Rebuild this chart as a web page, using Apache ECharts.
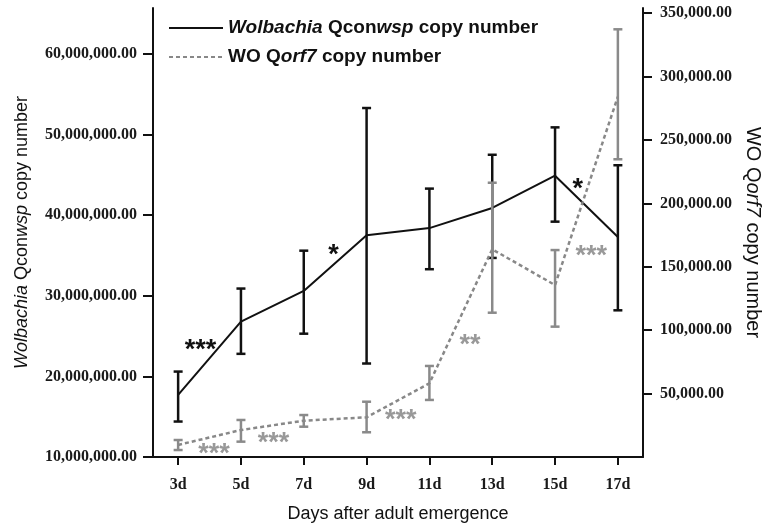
<!DOCTYPE html>
<html>
<head>
<meta charset="utf-8">
<script src="https://cdn.jsdelivr.net/npm/echarts@6/dist/echarts.min.js"></script>
<style>
html,body{margin:0;padding:0;background:#fff;}
#container{width:763px;height:523px;}
</style>
</head>
<body>
<div id="container"></div>
<script>
// days after adult emergence
var days = [3, 5, 7, 9, 11, 13, 15, 17];
// Wolbachia Qconwsp copy number (left axis): mean and error bar ends
var wolMean = [17.7e6, 26.8e6, 30.6e6, 37.5e6, 38.4e6, 40.9e6, 44.9e6, 37.3e6];
var wolHigh = [20.6e6, 30.9e6, 35.6e6, 53.3e6, 43.3e6, 47.5e6, 50.9e6, 46.2e6];
var wolLow  = [14.4e6, 22.8e6, 25.3e6, 21.6e6, 33.3e6, 34.7e6, 39.2e6, 28.2e6];
// WO Qorf7 copy number (right axis)
var woMean = [9500, 21300, 28600, 31300, 58100, 163800, 135600, 284200];
var woHigh = [13400, 29200, 33100, 43600, 71800, 216300, 163200, 337300];
var woLow  = [5500, 12100, 23900, 19500, 45000, 113800, 102800, 234800];
// tick labels
var leftTicks = [10e6, 20e6, 30e6, 40e6, 50e6, 60e6];
var rightTicks = [50000, 100000, 150000, 200000, 250000, 300000, 350000];
// significance marks: [day, value, text]
var wolStars = [[3.71, 24.0e6, '***'], [7.95, 35.8e6, '*'], [15.72, 43.96e6, '*']];
var woStars = [[4.14, 6900, '***'], [6.04, 15500, '***'], [10.09, 33700, '***'], [12.29, 92800, '**'], [16.15, 163200, '***']];

var chart = echarts.init(document.getElementById('container'));

function fmt(v) {
    return v.toLocaleString('en-US', {minimumFractionDigits: 2, maximumFractionDigits: 2});
}
function pairs(a) {
    return days.map(function (d, i) { return [d, a[i]]; });
}
function errData(lo, hi) {
    return days.map(function (d, i) { return [d, lo[i], hi[i]]; });
}
function errBar(color, width) {
    return function (params, api) {
        var top = api.coord([api.value(0), api.value(2)]);
        var bot = api.coord([api.value(0), api.value(1)]);
        var w = 4.5;
        var st = {stroke: color, lineWidth: width};
        return {type: 'group', children: [
            {type: 'line', shape: {x1: top[0], y1: top[1], x2: bot[0], y2: bot[1]}, style: st},
            {type: 'line', shape: {x1: top[0] - w, y1: top[1], x2: top[0] + w, y2: top[1]}, style: st},
            {type: 'line', shape: {x1: bot[0] - w, y1: bot[1], x2: bot[0] + w, y2: bot[1]}, style: st}
        ]};
    };
}
function starText(color) {
    return function (params, api) {
        var p = api.coord([api.value(0), api.value(1)]);
        return {type: 'text', x: p[0], y: p[1] + 6, style: {
            text: api.value(2), fill: color, font: 'bold 27px "Liberation Sans"',
            align: 'center', verticalAlign: 'middle'
        }};
    };
}

var axisFont = {fontFamily: 'Liberation Serif', fontWeight: 'bold', fontSize: 16, color: '#1a1a1a'};

var option = {
    animation: false,
    backgroundColor: '#fff',
    grid: {left: 153, right: 120, top: 8, bottom: 66, outerBoundsMode: 'none'},
    legend: {
        orient: 'vertical', left: 163, top: 13,
        itemWidth: 54, itemHeight: 14, itemGap: 9,
        data: ['wol', 'wo'],
        itemStyle: {opacity: 0},
        formatter: function (n) {
            return n === 'wol' ? '{i|Wolbachia} Qcon{i|wsp} copy number' : 'WO Q{i|orf7} copy number';
        },
        textStyle: {
            fontFamily: 'Liberation Sans', fontWeight: 'bold', fontSize: 19, color: '#111', lineHeight: 20,
            rich: {i: {fontStyle: 'italic', fontFamily: 'Liberation Sans', fontWeight: 'bold', fontSize: 19, color: '#111'}}
        }
    },
    xAxis: {
        type: 'value', min: 2.2, max: 17.8,
        name: 'Days after adult emergence', nameLocation: 'middle', nameGap: 48,
        nameTextStyle: {fontFamily: 'Liberation Sans', fontSize: 18, color: '#111'},
        axisLine: {lineStyle: {color: '#111', width: 2}},
        axisTick: {customValues: days, length: 8, lineStyle: {color: '#111', width: 2}},
        axisLabel: Object.assign({customValues: days, margin: 20, formatter: function (v) { return v + 'd'; }}, axisFont),
        splitLine: {show: false}
    },
    yAxis: [{
        type: 'value', position: 'left', min: 10e6, max: 65.71e6,
        name: '{i|Wolbachia} Qcon{i|wsp} copy number', nameLocation: 'middle', nameGap: 122,
        nameTextStyle: {fontFamily: 'Liberation Sans', fontSize: 18, color: '#111',
            rich: {i: {fontStyle: 'italic', fontFamily: 'Liberation Sans', fontSize: 18, color: '#111'}}},
        axisLine: {show: true, lineStyle: {color: '#111', width: 2}},
        axisTick: {show: true, customValues: leftTicks, length: 10, lineStyle: {color: '#111', width: 2}},
        axisLabel: Object.assign({customValues: leftTicks, margin: 16, formatter: fmt}, axisFont),
        splitLine: {show: false}
    }, {
        type: 'value', position: 'right', min: 0, max: 354100,
        name: 'WO Q{i|orf7} copy number', nameLocation: 'middle', nameGap: 100, nameRotate: -90,
        nameTextStyle: {fontFamily: 'Liberation Sans', fontSize: 20, color: '#111',
            rich: {i: {fontStyle: 'italic', fontFamily: 'Liberation Sans', fontSize: 20, color: '#111'}}},
        axisLine: {show: true, lineStyle: {color: '#111', width: 2}},
        axisTick: {show: true, customValues: rightTicks, length: 9, lineStyle: {color: '#111', width: 2}},
        axisLabel: Object.assign({customValues: rightTicks, margin: 17, formatter: fmt}, axisFont),
        splitLine: {show: false}
    }],
    series: [{
        name: 'wol', type: 'line', yAxisIndex: 0, data: pairs(wolMean),
        symbol: 'none', color: '#111', lineStyle: {color: '#111', width: 2}
    }, {
        type: 'custom', yAxisIndex: 0, data: errData(wolLow, wolHigh),
        renderItem: errBar('#111', 2.5), z: 3
    }, {
        name: 'wo', type: 'line', yAxisIndex: 1, data: pairs(woMean),
        symbol: 'none', color: '#888', lineStyle: {color: '#888', width: 2.5, type: [4, 3]}, z: 4
    }, {
        type: 'custom', yAxisIndex: 1, data: errData(woLow, woHigh),
        renderItem: errBar('#8a8a8a', 2.5), z: 4
    }, {
        type: 'custom', yAxisIndex: 0, data: wolStars,
        renderItem: starText('#111'), z: 5
    }, {
        type: 'custom', yAxisIndex: 1, data: woStars,
        renderItem: starText('#999'), z: 5
    }]
};

chart.setOption(option);
</script>
</body>
</html>
